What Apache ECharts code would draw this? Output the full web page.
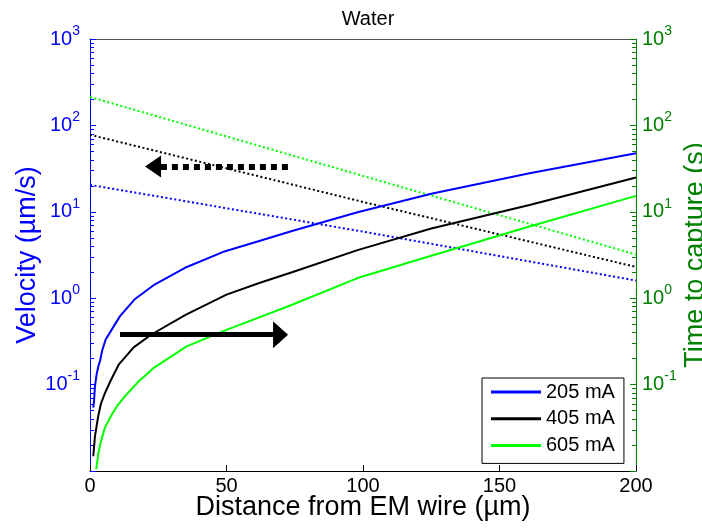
<!DOCTYPE html>
<html>
<head>
<meta charset="utf-8">
<title>Water</title>
<script src="https://cdn.jsdelivr.net/npm/echarts@6.0.0/dist/echarts.min.js"></script>
<style>
	html, body { margin:0; padding:0; background:#fff; }
	#waterChart { width:702px; height:529px; }
</style>
</head>
<body>
<div id="waterChart"></div>
<script>
// time to capture (s) vs distance (um)
var blueX  = [1.2, 1.5, 1.8, 2.4, 3, 3.7, 4.5, 5.7, 7.9, 11, 16.5, 23.8, 34.8, 49.5, 62, 74, 98, 125, 161, 200];
var blueT  = [0.054, 0.065, 0.095, 0.13, 0.16, 0.19, 0.25, 0.33, 0.43, 0.62, 0.98, 1.45, 2.25, 3.5, 4.6, 6.0, 9.9, 16.2, 28, 47.7];
var blackX = [1.2, 1.8, 3, 4, 5.5, 7.5, 10.5, 16, 22.5, 35, 50, 62, 74, 98, 125, 161, 200];
var blackT = [0.0148, 0.025, 0.043, 0.06, 0.08, 0.11, 0.17, 0.27, 0.38, 0.64, 1.1, 1.5, 2.0, 3.6, 6.4, 12, 25];
var greenX = [2.3, 3, 4, 5.5, 8, 10, 13.4, 18, 23.2, 35.4, 50, 62, 74, 98, 125, 161, 200];
var greenT = [0.0105, 0.0155, 0.022, 0.032, 0.045, 0.057, 0.077, 0.11, 0.155, 0.277, 0.43, 0.6, 0.84, 1.71, 3.1, 6.76, 15.3];

// velocity (um/s), dotted lines
var velX   = [0, 100, 200];
var blueV  = [20.5, 5.9, 1.6];
var blackV = [78, 13, 2.3];
var greenV = [213, 26, 3.2];

var legendNames = ['205 mA', '405 mA', '605 mA'];

// decades shown on the log axes, and the 2..9 steps between them
var decades   = [0.01, 0.1, 1, 10, 100, 1000];
var minorMult = [2, 3, 4, 5, 6, 7, 8, 9];

// arrow annotations, in data units [distance, value]
var arrowRight = [[11, 0.378], [69.8, 0.378]];
var arrowLeft  = [[72.5, 33.4], [23.1, 33.4]];

var FONT = 'Liberation Sans, Arial, sans-serif';
var BLUE = '#0000ff', GREEN_AX = '#008000', GREEN = '#00ff00';

var chart = {

	pairs : function (xs, ys){
		return xs.map(function (x, i){ return [x, ys[i]]; });
	},

	powLabel : function (value){
		var e = Math.round(Math.log(value) / Math.LN10);
		if (e <= -2) return '';
		return '{b|10}{s|' + e + '}';
	},

	// minor tick spots, as exponents, for the overlay value axes
	minorExp : function (){
		var out = [];
		for (var i = 0; i < decades.length - 1; i++) {
			for (var j = 0; j < minorMult.length; j++) {
				out.push(Math.log(decades[i] * minorMult[j]) / Math.LN10);
			}
		}
		return out;
	},

	yAxis : function (color, pos, name, gap, margin){
		return {
			type : 'log',
			logBase : 10,
			min : 0.01,
			max : 1000,
			position : pos,
			name : name,
			nameLocation : 'middle',
			nameGap : gap,
			nameMoveOverlap : false,
			nameTextStyle : { color : color, fontSize : 27, fontFamily : FONT },
			axisLine : { show : true, onZero : false, lineStyle : { color : color, width : 1 } },
			axisTick : { show : true, inside : true, length : 6, lineStyle : { color : color } },
			minorTick : { show : false },
			splitLine : { show : false },
			axisLabel : {
				formatter : chart.powLabel,
				margin : margin,
				color : color,
				fontFamily : FONT,
				rich : {
					b : { fontSize : 20, lineHeight : 30, color : color, fontFamily : FONT },
					s : { fontSize : 14, lineHeight : 12, verticalAlign : 'top', color : color, fontFamily : FONT }
				}
			}
		};
	},

	minorAxis : function (color, pos){
		return {
			type : 'value', min : -2, max : 3, position : pos,
			axisLine : { show : false, onZero : false },
			axisLabel : { show : false },
			splitLine : { show : false },
			axisTick : {
				show : true, inside : true, length : 4,
				customValues : chart.minorExp(),
				lineStyle : { color : color }
			}
		};
	},

	solid : function (name, color, xs, ys){
		return {
			name : name, type : 'line', yAxisIndex : 1, symbol : 'none',
			data : chart.pairs(xs, ys),
			lineStyle : { color : color, width : 2 },
			itemStyle : { color : color },
			z : 3
		};
	},

	dotted : function (name, color, ys){
		return {
			name : name, type : 'line', yAxisIndex : 0, symbol : 'none',
			data : chart.pairs(velX, ys),
			lineStyle : { color : color, width : 2, type : [2, 2.5] },
			itemStyle : { color : color },
			z : 2
		};
	},

	options : function (){
		var series = [
			chart.solid(legendNames[0], BLUE, blueX, blueT),
			chart.solid(legendNames[1], '#000', blackX, blackT),
			chart.solid(legendNames[2], GREEN, greenX, greenT),
			chart.dotted('v ' + legendNames[0], BLUE, blueV),
			chart.dotted('v ' + legendNames[1], '#000', blackV),
			chart.dotted('v ' + legendNames[2], GREEN, greenV)
		];
		// solid arrow -> right axis
		series[0].markLine = {
			silent : true, animation : false,
			symbol : ['none', 'triangle'], symbolSize : [27, 15],
			label : { show : false },
			lineStyle : { color : '#000', width : 5, type : 'solid' },
			data : [[{ coord : arrowRight[0] }, { coord : arrowRight[1] }]]
		};
		// dotted arrow -> left axis
		series[3].markLine = {
			silent : true, animation : false,
			symbol : ['none', 'triangle'], symbolSize : [22, 16],
			label : { show : false },
			lineStyle : { color : '#000', width : 6, type : [6, 5], cap : 'butt' },
			data : [[{ coord : arrowLeft[0] }, { coord : arrowLeft[1] }]]
		};
		return {
			animation : false,
			backgroundColor : '#fff',
			title : {
				text : 'Water',
				left : 363, top : 4, textAlign : 'center',
				textStyle : { fontSize : 20, fontWeight : 'normal', color : '#000', fontFamily : FONT }
			},
			grid : { left : 90, right : 66, top : 39, bottom : 58, outerBoundsMode : 'none', containLabel : false },
			legend : {
				data : legendNames,
				icon : 'rect',
				orient : 'vertical',
				left : 482, top : 378,
				backgroundColor : '#fff',
				borderColor : '#000', borderWidth : 1,
				padding : [4, 9, 8, 9],
				itemGap : 6.7, itemWidth : 50, itemHeight : 3,
				selectedMode : false,
				textStyle : { fontSize : 20, lineHeight : 20, color : '#000', fontFamily : FONT }
			},
			xAxis : [{
				type : 'value', min : 0, max : 200, interval : 50, position : 'bottom',
				name : 'Distance from EM wire (\u00b5m)',
				nameLocation : 'middle', nameGap : 23,
				nameMoveOverlap : false,
				nameTextStyle : { color : '#000', fontSize : 27, fontFamily : FONT },
				axisLine : { onZero : false, lineStyle : { color : '#000', width : 1 } },
				axisTick : { inside : true, length : 6, lineStyle : { color : '#000' } },
				axisLabel : { margin : 5, color : '#000', fontSize : 20, fontFamily : FONT },
				splitLine : { show : false }
			}, {
				type : 'value', min : 0, max : 200, position : 'top',
				axisLine : { onZero : false, lineStyle : { color : '#555', width : 1 } },
				axisTick : { show : false },
				axisLabel : { show : false },
				splitLine : { show : false }
			}],
			yAxis : [
				chart.yAxis(BLUE, 'left', 'Velocity (\u00b5m/s)', 49, 10),
				chart.yAxis(GREEN_AX, 'right', 'Time to capture (s)', 46, 6),
				chart.minorAxis(BLUE, 'left'),
				chart.minorAxis(GREEN_AX, 'right')
			],
			series : series
		};
	},

	init : function (){
		var myChart = echarts.init(document.getElementById('waterChart'), null, { renderer : 'canvas' });
		myChart.setOption(chart.options());
	}
};

chart.init();
</script>
</body>
</html>
